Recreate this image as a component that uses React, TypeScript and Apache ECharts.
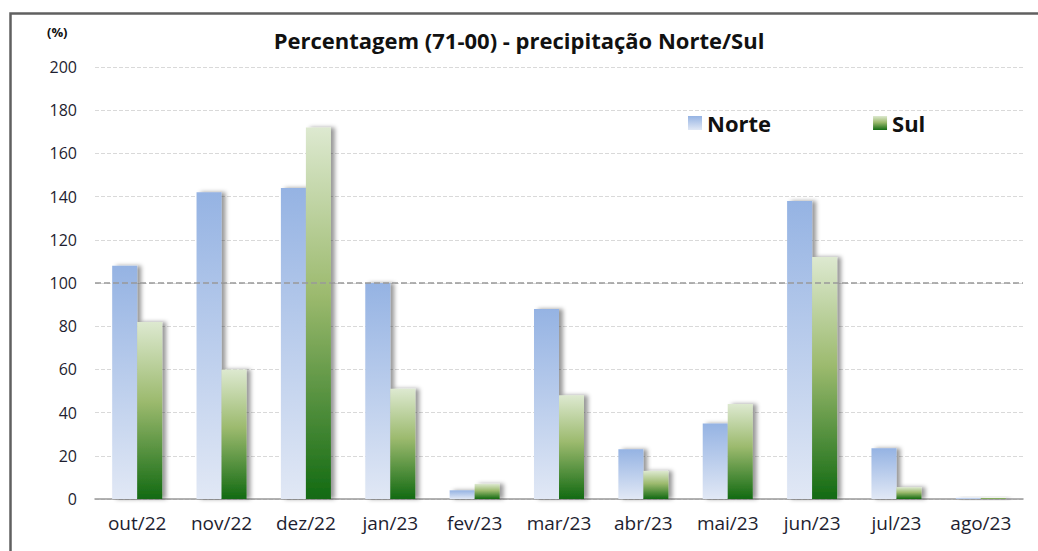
import React, { useEffect, useRef } from "react";
import * as echarts from "echarts";

const categories = ["out/22", "nov/22", "dez/22", "jan/23", "fev/23", "mar/23", "abr/23", "mai/23", "jun/23", "jul/23", "ago/23"];
const norte = [108, 142, 144, 100, 4, 88, 23, 35, 138, 23.5, 0.5];
const sul = [82, 60, 172, 51, 7, 48, 13, 44, 112, 5.5, 0.5];
const referenceValue = 100;

const FONT = "'Open Sans', 'Noto Sans', sans-serif";

export default function App() {
  const ref = useRef<HTMLDivElement>(null);
  useEffect(() => {
    document.body.style.margin = "0";
    const chart = echarts.init(ref.current!, null, { renderer: "svg" });
    const norteGrad = new echarts.graphic.LinearGradient(0, 0, 0, 1, [
      { offset: 0, color: "#95b3e3" },
      { offset: 1, color: "#e1e8f5" },
    ]);
    const sulGrad = new echarts.graphic.LinearGradient(0, 0, 0, 1, [
      { offset: 0, color: "#dde9d0" },
      { offset: 0.45, color: "#9cba6e" },
      { offset: 1, color: "#126a12" },
    ]);
    chart.setOption({
      animation: false,
      backgroundColor: "#ffffff",
      title: {
        text: "Percentagem (71-00) - precipitação Norte/Sul",
        left: "center",
        top: 24,
        textStyle: { fontFamily: FONT, fontSize: 22, fontWeight: "bold", color: "#111" },
      },
      legend: {
        left: 683,
        top: 107,
        itemWidth: 14,
        itemHeight: 14,
        itemGap: 102,
        textStyle: { fontFamily: FONT, fontSize: 22, fontWeight: "bold", color: "#111" },
        data: [
          { name: "Norte", icon: "rect" },
          { name: "Sul", icon: "rect" },
        ],
      },
      grid: { left: 95, right: 15, top: 67, bottom: 52 },
      xAxis: {
        type: "category",
        data: categories,
        axisLine: { lineStyle: { color: "#999", width: 1.5 } },
        axisTick: { length: 5, lineStyle: { color: "#888" } },
        axisLabel: { fontFamily: FONT, fontSize: 19, color: "#1e1e30", margin: 14 },
      },
      yAxis: {
        type: "value",
        min: 0,
        max: 200,
        interval: 20,
        axisLine: { show: false },
        axisTick: { show: false },
        axisLabel: { fontFamily: FONT, fontSize: 16, color: "#1e1e30", margin: 18 },
        splitLine: { lineStyle: { color: "#d9d9d9", type: "dashed" } },
      },
      series: [
        {
          name: "Norte",
          type: "bar",
          data: norte,
          barWidth: 25,
          barGap: "0%",
          itemStyle: {
            color: norteGrad,
            shadowColor: "rgba(0,0,0,0.4)",
            shadowBlur: 4,
            shadowOffsetX: 4,
          },
          markLine: {
            silent: true,
            symbol: "none",
            label: { show: false },
            lineStyle: { color: "#999", type: "dashed", width: 1.5 },
            data: [{ yAxis: referenceValue }],
          },
        },
        {
          name: "Sul",
          type: "bar",
          data: sul,
          barWidth: 25,
          barGap: "0%",
          itemStyle: {
            color: sulGrad,
            shadowColor: "rgba(0,0,0,0.4)",
            shadowBlur: 4,
            shadowOffsetX: 4,
          },
        },
      ],
      graphic: [
        {
          type: "text",
          left: 47,
          top: 25,
          style: { text: "(%)", fontFamily: FONT, fontSize: 13, fontWeight: "bold", fill: "#111" },
          silent: true,
        },
        {
          type: "rect",
          left: 8,
          top: 11,
          shape: { x: 0, y: 0, width: 1100, height: 600 },
          style: { fill: "none", stroke: "#606060", lineWidth: 2.5 },
          silent: true,
          z: 100,
        },
      ],
    });
    return () => chart.dispose();
  }, []);
  return <div ref={ref} style={{ width: 1038, height: 551 }} />;
}
